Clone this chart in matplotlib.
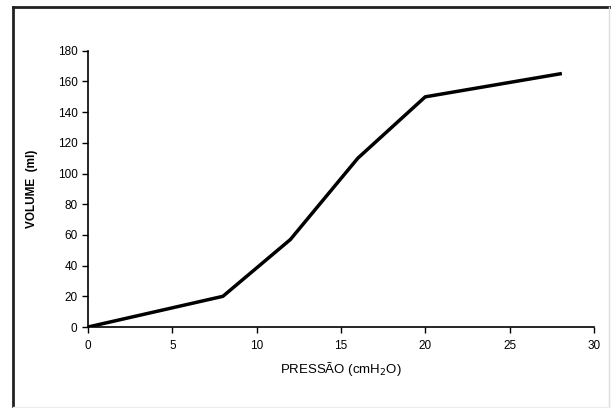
import matplotlib.pyplot as plt
from matplotlib.lines import Line2D

# Pressure-volume curve data
pressao = [0, 8, 12, 16, 20, 28]
volume = [0, 20, 57, 110, 150, 165]

x_ticks = [0, 5, 10, 15, 20, 25, 30]
y_ticks = [0, 20, 40, 60, 80, 100, 120, 140, 160, 180]

plt.rcParams['font.family'] = ['Liberation Sans', 'DejaVu Sans']

fig = plt.figure(figsize=(6.11, 4.08), dpi=100)
ax = fig.add_axes([0.144, 0.1985, 0.828, 0.677])

ax.plot(pressao, volume, color="black", linewidth=2.5)

ax.set_xlim(0, 30)
ax.set_ylim(0, 180)
ax.set_xticks(x_ticks)
ax.set_yticks(y_ticks)
ax.tick_params(direction="out", length=4, width=1, labelsize=8.5, colors="black")
ax.tick_params(axis="x", pad=5)
ax.spines["top"].set_visible(False)
ax.spines["right"].set_visible(False)
ax.spines["left"].set_linewidth(1.2)
ax.spines["bottom"].set_linewidth(1.2)

ax.set_xlabel("PRESSÃO (cmH$_2$O)", fontsize=9.5, labelpad=6)
ax.set_ylabel("VOLUME  (ml)", fontsize=8.5, fontweight="bold", labelpad=14)

# outer frame around the chart
fig.add_artist(Line2D([0.0213, 0.0213], [0, 0.983], transform=fig.transFigure,
                      color="#222222", linewidth=2))
fig.add_artist(Line2D([0.0213, 1], [0.983, 0.983], transform=fig.transFigure,
                      color="#222222", linewidth=2))
fig.add_artist(Line2D([0.997, 0.997], [0, 0.983], transform=fig.transFigure,
                      color="#dddddd", linewidth=1))
fig.add_artist(Line2D([0.0213, 1], [0.003, 0.003], transform=fig.transFigure,
                      color="#eeeeee", linewidth=1))

plt.savefig("out.png", dpi=100)
